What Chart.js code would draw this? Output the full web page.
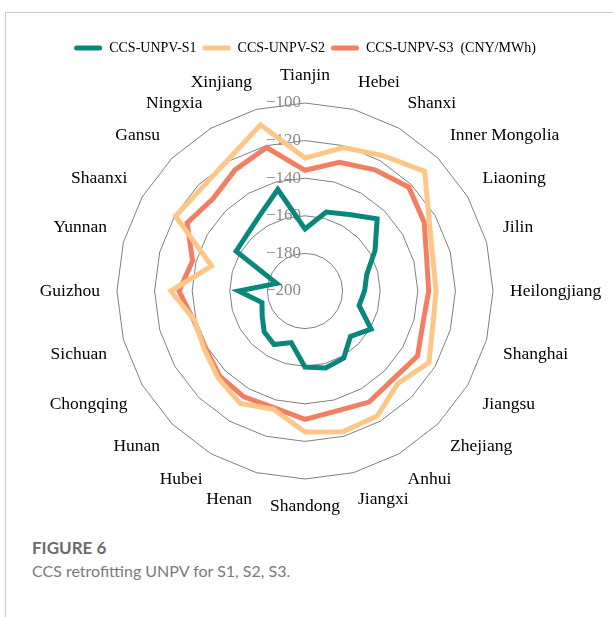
<!DOCTYPE html>
<html>
<head>
<meta charset="utf-8">
<script src="https://cdn.jsdelivr.net/npm/chart.js@4.4.1/dist/chart.umd.min.js"></script>
<style>
  body { margin: 0; background: #fff; width: 613px; height: 617px; overflow: hidden; position: relative; }
  #frame { position: absolute; left: 5px; top: 12px; right: -2px; bottom: -2px; border-top: 1px solid #c8c8c8; border-left: 1px solid #c8c8c8; }
  #wrap { position: absolute; left: -45px; top: 13px; width: 700px; height: 504px; }
  .fig { position: absolute; left: 32px; top: 537px; color: #6b6b6b; font: bold 17px Lato, sans-serif; }
  .cap { position: absolute; left: 32px; top: 561px; color: #7a7a7a; font: 16px Lato, sans-serif; }
</style>
</head>
<body>
<div id="frame"></div>
<div id="wrap"><canvas id="mycanvas"></canvas></div>
<div class="fig">FIGURE 6</div>
<div class="cap">CCS retrofitting UNPV for S1, S2, S3.</div>
<script>
var provinces = ["Tianjin", "Hebei", "Shanxi", "Inner Mongolia", "Liaoning", "Jilin", "Heilongjiang",
  "Shanghai", "Jiangsu", "Zhejiang", "Anhui", "Jiangxi", "Shandong", "Henan", "Hubei", "Hunan",
  "Chongqing", "Sichuan", "Guizhou", "Yunnan", "Shaanxi", "Gansu", "Ningxia", "Xinjiang"];

var unpv_s1 = [-167.0, -156.5, -153.0, -145.7, -157.0, -166.0, -168.3, -170.2, -159.4, -165.8, -158.8, -157.6,
  -159.6, -171.6, -167.1, -169.3, -173.7, -176.3, -164.7, -184.3, -157.7, -156.9, -152.8, -144.1];
var unpv_s2 = [-129.3, -121.0, -116.9, -110.0, -123.8, -129.7, -130.3, -129.6, -123.9, -130.3, -123.2, -122.5,
  -125.0, -134.9, -131.0, -134.6, -138.1, -139.3, -128.6, -148.6, -120.5, -122.4, -118.9, -108.5];
var unpv_s3 = [-135.8, -129.1, -125.6, -121.9, -126.8, -133.0, -134.2, -135.0, -130.9, -133.7, -131.8, -134.0,
  -131.7, -135.8, -135.0, -135.9, -139.0, -138.8, -133.0, -138.1, -127.6, -130.7, -125.6, -121.0];

var axis_min = -200;
var axis_max = -100;
var axis_step = 20;

// value labels drawn left of the vertical axis, under the lines
var tickLabels = {
  id: 'tickLabels',
  beforeDatasetsDraw: function(chart) {
    var scale = chart.scales.r;
    var ctx = chart.ctx;
    ctx.save();
    ctx.font = '17px "Liberation Serif"';
    ctx.fillStyle = '#8a8a8a';
    ctx.textAlign = 'right';
    ctx.textBaseline = 'middle';
    scale.ticks.forEach(function(t) {
      var d = scale.getDistanceFromCenterForValue(t.value);
      ctx.fillText('\u2212' + Math.abs(t.value), scale.xCenter - 4, scale.yCenter - d);
    });
    ctx.restore();
  }
};

var chartdata = {
  labels: provinces,
  datasets: [
    { label: "CCS-UNPV-S1", data: unpv_s1, borderColor: "#0a877c", backgroundColor: "#0a877c" },
    { label: "CCS-UNPV-S2", data: unpv_s2, borderColor: "#fec787", backgroundColor: "#fec787" },
    { label: "CCS-UNPV-S3  (CNY/MWh)", data: unpv_s3, borderColor: "#f27f61", backgroundColor: "#f27f61" }
  ]
};
chartdata.datasets.forEach(function(ds) {
  ds.fill = false;
  ds.borderWidth = 5;
  ds.pointRadius = 0;
  ds.pointHoverRadius = 0;
  ds.tension = 0;
  ds.borderJoinStyle = 'miter';
});

var ctx = document.getElementById("mycanvas");

var RadarGraph = new Chart(ctx, {
  type: 'radar',
  data: chartdata,
  plugins: [tickLabels],
  options: {
    responsive: true,
    maintainAspectRatio: false,
    animation: false,
    layout: { padding: { top: 22, bottom: 0, left: 0, right: 0 } },
    plugins: {
      tooltip: { enabled: false },
      legend: {
        position: 'top',
        labels: {
          color: '#000',
          font: { family: '"Liberation Serif"', size: 14 },
          boxWidth: 28,
          boxHeight: 5,
          padding: 6,
          useBorderRadius: true,
          borderRadius: 2.5,
          generateLabels: function(chart) {
            var items = Chart.defaults.plugins.legend.labels.generateLabels(chart);
            items.forEach(function(it) { it.lineWidth = 0; });
            return items;
          }
        }
      }
    },
    scales: {
      r: {
        min: axis_min,
        max: axis_max,
        ticks: { stepSize: axis_step, display: false },
        angleLines: { display: false },
        grid: { color: '#7f7f7f', lineWidth: 1, circular: false },
        pointLabels: {
          color: '#000',
          padding: 17,
          font: { family: '"Liberation Serif"', size: 17.5 }
        }
      }
    }
  }
});
</script>
</body>
</html>
